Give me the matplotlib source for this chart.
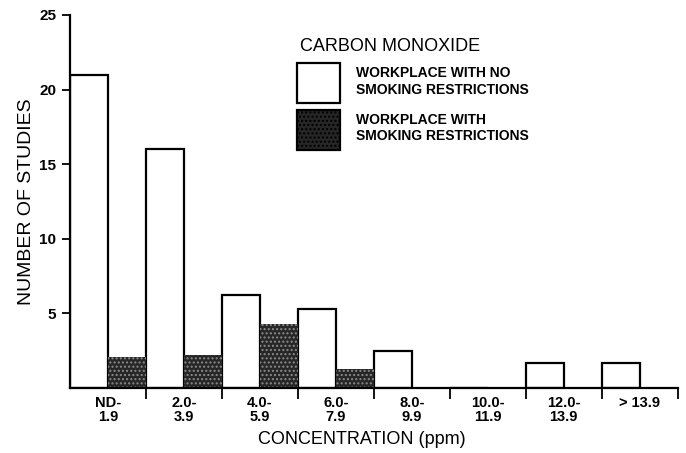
import matplotlib.pyplot as plt
import numpy as np

plt.rcParams['font.family'] = ['Liberation Sans', 'DejaVu Sans']

categories = ['ND-\n1.9', '2.0-\n3.9', '4.0-\n5.9', '6.0-\n7.9', '8.0-\n9.9',
              '10.0-\n11.9', '12.0-\n13.9', '> 13.9']
no_restrictions = [21, 16, 6.2, 5.3, 2.5, 0, 1.7, 1.7]
with_restrictions = [2.1, 2.2, 4.3, 1.3, 0, 0, 0, 0]
y_ticks = [5, 10, 15, 20, 25]

fig = plt.figure(figsize=(6.86, 4.53), dpi=100)
ax = fig.add_axes([0.102, 0.1435, 0.886, 0.8235])

x = np.arange(len(categories))
ax.bar(x, no_restrictions, width=0.5, align='edge', facecolor='white',
       edgecolor='black', linewidth=1.6,
       label='WORKPLACE WITH NO\nSMOKING RESTRICTIONS')
ax.bar(x + 0.5, with_restrictions, width=0.5, align='edge', facecolor='#262626',
       edgecolor='#8a8a8a', hatch='....', linewidth=0,
       label='WORKPLACE WITH\nSMOKING RESTRICTIONS')

ax.set_xlim(0, len(categories))
ax.set_ylim(0, 25)

ax.spines['top'].set_visible(False)
ax.spines['right'].set_visible(False)
ax.spines['left'].set_linewidth(1.6)
ax.spines['bottom'].set_linewidth(1.6)

ax.set_yticks(y_ticks)
ax.set_yticklabels([str(t) for t in y_ticks], fontsize=11, fontweight='bold')
ax.tick_params(axis='y', direction='out', length=6, width=1.3, pad=4)

# boundary ticks as majors, category labels as minors
ax.set_xticks(x[1:].tolist() + [len(categories)])
ax.set_xticklabels([])
ax.tick_params(axis='x', which='major', direction='out', length=8, width=1.3)
ax.set_xticks(x + 0.5, minor=True)
ax.set_xticklabels(categories, minor=True, fontsize=10.5, fontweight='bold',
                   va='top', linespacing=0.95)
ax.tick_params(axis='x', which='minor', length=0, pad=6)

ax.set_xlabel('CONCENTRATION (ppm)', fontsize=13)
ax.xaxis.set_label_coords(0.48, -0.115)
ax.set_ylabel('NUMBER OF STUDIES', fontsize=14)
ax.yaxis.set_label_coords(-0.058, 0.5)

# legend title written separately so it can sit a bit above the swatches
ax.text(0.378, 0.938, 'CARBON MONOXIDE', transform=ax.transAxes,
        fontsize=13, ha='left', va='top')
leg = ax.legend(loc='upper left', bbox_to_anchor=(0.373, 0.871), frameon=False,
                prop={'size': 10, 'weight': 'bold'},
                handlelength=3.1, handleheight=4.1, handletextpad=1.2,
                labelspacing=0.45, borderpad=0, borderaxespad=0)
for h in leg.legend_handles:
    h.set_linewidth(1.6)
    h.set_edgecolor('black')

fig.savefig('out.png', dpi=100)
